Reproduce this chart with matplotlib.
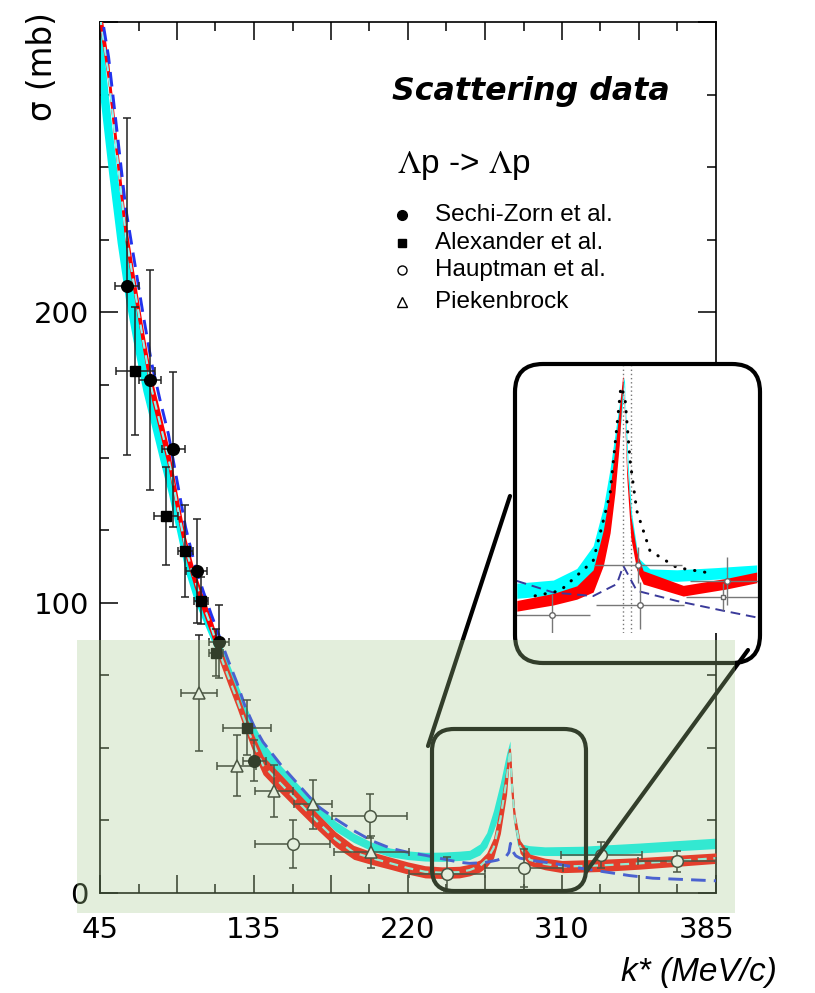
import numpy as np
import matplotlib.pyplot as plt
from matplotlib.patches import FancyBboxPatch, Rectangle
from matplotlib.lines import Line2D
from matplotlib.transforms import IdentityTransform
from matplotlib.ticker import FixedLocator, NullFormatter

plt.rcParams['mathtext.fontset'] = 'stix'

# k* axis labels are unevenly spaced: anchor k* -> tick index
k_anchor = [45, 135, 220, 310, 385, 389.8]
u_anchor = [0, 4, 8, 12, 15.76, 16]
k_labels = ['45', '135', '220', '310', '385']
sigma_labels = [0, 100, 200]

# measurements: k* (MeV/c), sigma (mb), errors
sz_k = [60.8, 74.2, 87.8, 101.5, 114.7, 135.2]
sz_s = [208.9, 176.7, 152.8, 110.9, 86.6, 45.6]
sz_kerr = [6.8, 6.7, 6.8, 6.3, 5.8, 6.6]
sz_serr = [58, 38, 26.7, 18, 12.6, 7]

al_k = [65.5, 83.4, 94.7, 103.9, 112.8, 130.7]
al_s = [179.8, 129.9, 117.8, 100.7, 82.8, 56.9]
al_kerr = [11.4, 7.0, 4.4, 4.1, 4.0, 13.8]
al_serr = [22, 17, 16, 8, 8, 9.5]

ha_k = [156.4, 199.0, 242.6, 287.8, 330.3, 369.8]
ha_s = [16.9, 26.5, 6.5, 8.7, 13.1, 11.0]
ha_kerr = [20.7, 20.7, 22.2, 22.8, 21, 20.2]
ha_serr = [8.3, 7.7, 6, 6.5, 4.5, 3.6]

pk_k = [103.0, 124.9, 146.2, 167.7, 199.6]
pk_s = [68.8, 43.9, 35.1, 30.6, 14.2]
pk_kerr = [10.5, 11.4, 10.5, 10.5, 20.7]
pk_serr = [20, 10.5, 9, 8.4, 5.6]

# calculations
red_k = [45, 50, 55, 60, 65, 70, 75, 80, 85, 90, 95, 100, 105, 110, 115, 120, 125,
         130, 135, 140, 150, 160, 170, 180, 190, 200, 210, 220, 230, 240, 250, 256,
         262, 266, 270, 274, 277.6, 279.6, 281, 282.5, 285.5, 291.3, 300, 310, 330,
         350, 370, 390]
red_s = [302, 282, 254, 227, 209, 191, 174, 162, 150, 134, 119, 108.5, 99.8, 91.7,
         82.5, 74.5, 66.8, 58.5, 51, 44, 37.5, 31, 24.6, 18.5, 14, 12, 10.3, 8.6,
         7.3, 7.0, 7.2, 7.9, 9.3, 11.4, 15.5, 25.5, 38.9, 49.3, 35, 25.1, 15.9, 11.4,
         10, 9.1, 9.5, 10.2, 11.1, 12.0]
red_hw = [4.5, 4.5, 4.5, 4.5, 4, 4, 4, 4, 4, 4, 3.5, 3, 3, 3, 3, 3, 3, 3, 3.2,
          3.2, 3.2, 3, 2.8, 2.6, 2.4, 2.2, 2.1, 2.1, 2.1, 2.0, 2.0, 2.0, 2.1, 2.4, 3.5,
          5, 5, 1, 2.5, 2.5, 2.2, 2.0, 2.0, 2.1, 2.1, 2.0, 1.9, 1.8]

cyan_k = [45, 50, 55, 60, 65, 70, 75, 80, 85, 90, 95, 100, 105, 110, 115, 120, 125,
          130, 135, 140, 150, 160, 170, 180, 190, 200, 210, 220, 230, 240, 250, 256,
          262, 266, 270, 274, 277.6, 279.6, 280.5, 282, 284, 287, 291, 300, 320,
          350, 390]
cyan_s = [288, 261, 236, 214, 197, 181, 168, 155, 143, 129, 115, 105, 97.5, 90,
          83.5, 76.5, 69.5, 62, 55.5, 49.5, 41.5, 35, 29, 23, 19, 16, 14, 13, 12.5,
          12.5, 12.8, 13.1, 15, 18.3, 25, 33, 43, 51.6, 40, 25, 18, 15.3, 14.8,
          14.4, 14.5, 15.5, 17.1]
cyan_hw = [14, 13, 12, 10, 9, 8, 7, 6, 5.5, 5, 4.5, 4, 3.5, 3, 3, 3, 2.8, 2.8,
           2.5, 2.5, 2.2, 2.0, 1.8, 1.7, 1.6, 1.5, 1.5, 1.5, 1.5, 1.6, 1.6, 1.6,
           1.9, 2.5, 3.5, 5, 5, 0.8, 1.5, 1.5, 1.5, 1.5, 1.5, 1.5, 1.6, 1.7, 1.8]

blue_k = [45, 50, 55, 60, 65, 70, 75, 80, 85, 90, 95, 100, 105, 110, 115, 120, 125,
          130, 135, 140, 150, 160, 170, 180, 190, 200, 210, 220, 230, 240, 250, 256,
          265, 272, 277, 279, 279.9, 281, 283, 285.5, 295, 305, 320, 332, 345, 357,
          375, 390]
blue_s = [306, 288, 262, 236, 218, 200, 183, 170, 158, 142, 126, 114, 104.5, 96, 88,
          80, 72.5, 64, 57.5, 52, 44, 37, 30, 25.5, 21.5, 18, 15.5, 14, 13, 11.8,
          10.6, 10.2, 10.5, 11.3, 12.3, 14, 17.1, 14.5, 12.8, 12, 11, 10.2, 8.5, 7.3,
          6, 5.1, 4.6, 4.2]

# zoomed view of the Sigma-N cusp
in_red_k = [250.3, 263.9, 272.6, 278.7, 282.5, 285.0, 286.8, 288.4, 289.7, 290.3,
            291.2, 292.7, 294.9, 297.3, 312.2, 328.4, 339.5]
in_red_s = [6.1, 7.6, 9.1, 11.7, 19.2, 27.5, 36.5, 46.3, 56.9, 50.1, 36.5, 23.8,
            16.2, 12.5, 9.5, 11.1, 12.5]
in_red_hw = [1.2, 1.3, 1.5, 2.5, 4, 5, 5, 4, 1, 0.5, 1.5, 2.5, 2, 1.5, 1.2, 1.2, 1.2]

in_cyan_k = [250.3, 263.9, 272.6, 278.7, 282.5, 285.0, 287.5, 289.3, 290.3, 290.9,
             291.8, 293.0, 295.5, 299.8, 309.8, 324.6, 339.5]
in_cyan_s = [9.5, 10.2, 12.5, 16.6, 23.8, 32.0, 42.6, 52.3, 56.9, 46.3, 35.0, 25.3,
             15.9, 13.2, 12.9, 13.4, 14.0]
in_cyan_hw = [1.7, 1.7, 2, 3, 4.5, 5, 5, 3, 0.5, 2, 2, 1.5, 1, 1.2, 1.3, 1.3, 1.3]

in_dot_k = [257.1, 266.4, 278.7, 285.0, 287.5, 289.0, 290.5, 292.4, 294.9, 299.8,
            309.8, 320.9]
in_dot_s = [8.35, 9.48, 16.2, 31.3, 46.3, 55.3, 53.1, 38.8, 27.5, 18.5, 14.7, 13.6]

in_navy_k = [250.3, 263.9, 278.7, 287.5, 289.9, 294.9, 309.8, 327.1, 339.5]
in_navy_s = [11.7, 9.1, 8.3, 11.0, 15.1, 9.5, 7.2, 5.0, 3.5]

in_thresholds = [289.9, 292.8]

in_pt_k = [263.3, 295.5, 296.1, 328.4]
in_pt_s = [4.0, 15.3, 6.2, 11.7]
in_pt_kerr = [14.2, 16.4, 16.2, 13.6]
in_pt_serr = [4.7, 4.1, 5.3, 5.3]
in_sq_k = [327.1]
in_sq_s = [8.2]
in_sq_kerr = [13.8]
in_sq_serr = [3.0]


def k_to_u(k):
    return np.interp(k, k_anchor, u_anchor)


def u_to_k(u):
    return np.interp(u, u_anchor, k_anchor)


def band(ax, k, s, hw, color, z):
    s = np.array(s)
    hw = np.array(hw)
    ax.fill_between(k, s - hw, s + hw, color=color, lw=0, zorder=z)


fig = plt.figure(figsize=(8.15, 9.93), dpi=100)
ax = fig.add_axes([100 / 815, 1 - 893 / 993, 616 / 815, 871 / 993])

ax.set_xscale('function', functions=(k_to_u, u_to_k))
ax.set_xlim(45, 389.8)
ax.set_ylim(0, 300)

band(ax, cyan_k, cyan_s, cyan_hw, '#00f5f0', 2)
band(ax, red_k, red_s, red_hw, '#ff0000', 3)
ax.plot(red_k, red_s, color='#ff0000', lw=1.5, zorder=3)
ax.plot(red_k, red_s, color='#8ff5f0', lw=1.6, ls=(0, (4, 3)), zorder=3.5)
ax.plot(blue_k, blue_s, color='#2233ee', lw=2.1, ls=(0, (5, 2.8)), zorder=4)

eb = dict(ecolor='#222222', elinewidth=1.1, capsize=3, capthick=1.1, ls='none', zorder=5)
ax.errorbar(sz_k, sz_s, xerr=sz_kerr, yerr=sz_serr, fmt='o', ms=8.4, mfc='black',
            mec='black', **eb)
ax.errorbar(al_k, al_s, xerr=al_kerr, yerr=al_serr, fmt='s', ms=7.2, mfc='black',
            mec='black', **eb)
ax.errorbar(ha_k, ha_s, xerr=ha_kerr, yerr=ha_serr, fmt='o', ms=8.4, mfc='white',
            mec='#222222', mew=1.1, **eb)
ax.errorbar(pk_k, pk_s, xerr=pk_kerr, yerr=pk_serr, fmt='^', ms=9, mfc='white',
            mec='#222222', mew=1.1, **eb)

# ticks: long on even index, short on odd; labels drawn separately
ax.xaxis.set_major_locator(FixedLocator(u_to_k(np.arange(0, 17, 2))))
ax.xaxis.set_minor_locator(FixedLocator(u_to_k(np.arange(1, 17, 2))))
ax.xaxis.set_major_formatter(NullFormatter())
ax.xaxis.set_minor_formatter(NullFormatter())
ax.yaxis.set_major_locator(FixedLocator(sigma_labels + [300]))
ax.yaxis.set_minor_locator(FixedLocator(np.arange(0, 301, 25)))
ax.set_yticklabels([str(v) for v in sigma_labels] + [''])
ax.tick_params(which='both', direction='in', top=True, right=True, width=1.1)
ax.tick_params(which='major', length=13)
ax.tick_params(which='minor', length=6.5)
ax.tick_params(axis='y', labelsize=21, pad=8)
for s in ax.spines.values():
    s.set_linewidth(1.2)

for k, lab in zip([45, 135, 220, 310, 385], k_labels):
    ax.text(k, -0.042, lab, transform=ax.get_xaxis_transform(), ha='center',
            va='center', fontsize=21)

fig.text(43 / 815, 1 - 67 / 993, 'σ (mb)', rotation=90, ha='center', va='center',
         fontsize=23.5)
fig.text(621 / 815, 1 - 973 / 993, 'k* (MeV/c)', ha='left', va='center',
         fontsize=24, style='italic', family='Liberation Sans')

# key
ax.text(0.4735, 0.920, 'Scattering data', transform=ax.transAxes, fontsize=22.8,
        weight='bold', style='italic', ha='left', va='center')
ax.text(0.4817, 0.8358, r'$\Lambda$p -> $\Lambda$p', transform=ax.transAxes,
        fontsize=24, family='Liberation Sans', ha='left', va='center')
key = [('o', 'black', 7, 'Sechi-Zorn et al.'),
       ('s', 'black', 6, 'Alexander et al.'),
       ('o', 'white', 6.5, 'Hauptman et al.'),
       ('^', 'white', 7, 'Piekenbrock')]
for (m, fc, ms, lab), y in zip(key, [0.7784, 0.7466, 0.7153, 0.6789]):
    ax.plot([0.4897], [y], marker=m, ms=ms, mfc=fc, mec='black', mew=1,
            transform=ax.transAxes, clip_on=False, ls='none')
    ax.text(0.5438, y, lab, transform=ax.transAxes, fontsize=17.5,
            family='Liberation Sans', ha='left', va='center')

# zoomed panel
ins = fig.add_axes([516 / 815, 1 - 633 / 993, 242 / 815, 267 / 993])
ins.set_zorder(2)
ins.set_facecolor('white')
ins.set_xlim(250, 340)
ins.set_ylim(0, 60)
ins.set_xticks([])
ins.set_yticks([])
for s in ins.spines.values():
    s.set_visible(False)
for t in in_thresholds:
    ins.axvline(t, color='#777777', lw=1, ls=(0, (1, 2)), zorder=1)
band(ins, in_cyan_k, in_cyan_s, in_cyan_hw, '#00ffff', 2)
band(ins, in_red_k, in_red_s, in_red_hw, '#ff0000', 3)
ins.plot(in_navy_k, in_navy_s, color='#3a3a9a', lw=1.4, ls=(0, (5, 3)), zorder=4)
ins.plot(in_dot_k, in_dot_s, color='black', lw=2.2, ls=(0, (0.1, 3.2)),
         dash_capstyle='round', zorder=5)
ieb = dict(ecolor='#777777', elinewidth=1, capsize=0, ls='none', zorder=6)
ins.errorbar(in_pt_k, in_pt_s, xerr=in_pt_kerr, yerr=in_pt_serr, fmt='o', ms=4,
             mfc='white', mec='#666666', mew=1, **ieb)
ins.errorbar(in_sq_k, in_sq_s, xerr=in_sq_kerr, yerr=in_sq_serr, fmt='s', ms=3.5,
             mfc='white', mec='#666666', mew=1, **ieb)

# frames and connectors in pixel coordinates
px = IdentityTransform()
fig.add_artist(FancyBboxPatch((515, 330), 245, 299, boxstyle='round,pad=0,rounding_size=28',
                              transform=px, fill=False, ec='black', lw=3, zorder=3))
fig.add_artist(FancyBboxPatch((432, 102), 154, 162, boxstyle='round,pad=0,rounding_size=22',
                              transform=px, fill=False, ec='black', lw=3, zorder=3))
fig.add_artist(Line2D([510, 428], [497, 247], transform=px, color='black', lw=3,
                      solid_capstyle='round', zorder=3))
fig.add_artist(Line2D([586, 748], [121, 343], transform=px, color='black', lw=3,
                      solid_capstyle='round', zorder=3))

# green highlight over the low-momentum region
fig.add_artist(Rectangle((77, 80), 658, 273, transform=px, facecolor='#a6cb8e',
                         alpha=0.31, lw=0, zorder=6))

fig.savefig('out.png', dpi=100)
